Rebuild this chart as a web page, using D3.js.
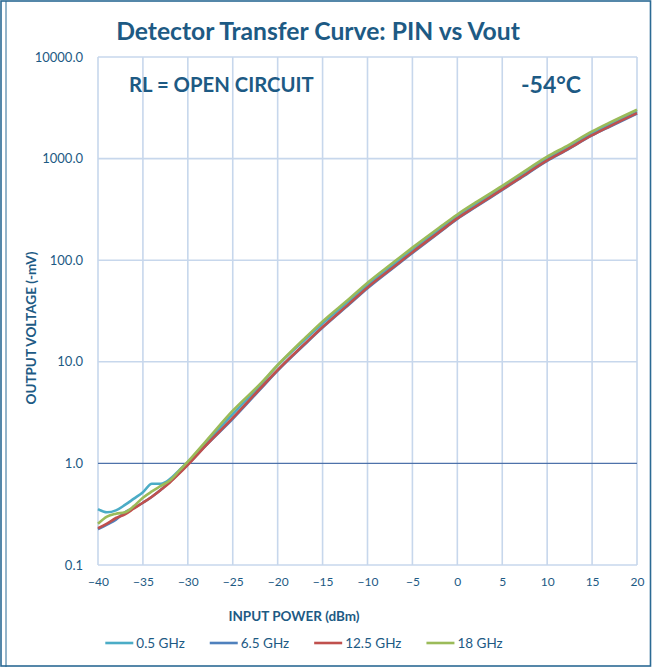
<!DOCTYPE html>
<html>
<head>
<meta charset="utf-8">
<script src="https://cdn.jsdelivr.net/npm/d3@7"></script>
<style>
  html, body { margin: 0; padding: 0; background: #ffffff; }
  svg { display: block; }
</style>
</head>
<body>
<svg id="chart" width="652" height="667"></svg>
<script>
// ---------- DATA ----------
const inputPower = [-40,-39,-38,-37,-36,-35,-34,-33,-32,-31,-30,-28,-25,-22,-20,-17,-15,-12,-10,-7,-5,-2,0,2,5,7,10,12,15,17,20];
const ghz05  = [0.355,0.33,0.345,0.39,0.45,0.52,0.63,0.63,0.70,0.85,1.03,1.6,3.05,5.8,9.2,16.4,23.8,40,57,92,127,200,270,352,518,675,1000,1250,1770,2180,2920];
const ghz65  = [0.225,0.25,0.28,0.33,0.365,0.41,0.47,0.55,0.66,0.8,0.98,1.5,2.75,5.3,8.2,14.8,21.7,37,53,86,118,188,255,332,492,640,950,1190,1690,2070,2780];
const ghz125 = [0.23,0.255,0.29,0.315,0.36,0.41,0.47,0.55,0.65,0.79,0.97,1.5,2.8,5.4,8.3,15.0,22,37.6,54,87,120,190,258,336,498,647,960,1200,1700,2090,2800];
const ghz18  = [0.255,0.30,0.32,0.33,0.38,0.46,0.53,0.6,0.68,0.84,1.04,1.65,3.3,6.0,9.3,17.0,25,42,60,97,133,210,282,368,540,705,1045,1305,1850,2270,3030];
const seriesNames = ["0.5 GHz","6.5 GHz","12.5 GHz","18 GHz"];
const seriesValues = [ghz05, ghz65, ghz125, ghz18];
const seriesColors = ["#4BACC6","#4F81BD","#C0504D","#9BBB59"];
const xTicks = [-40,-35,-30,-25,-20,-15,-10,-5,0,5,10,15,20];
const yTicks = [0.1,1,10,100,1000,10000];

// ---------- SETUP ----------
const svg = d3.select("#chart");
const FONT = "Lato, 'Open Sans', sans-serif";
const TXT = "#1D5A84";
const plot = {x0: 98, x1: 637, y0: 57, y1: 565};

// outer frame
svg.append("rect").attr("x",1).attr("y",1).attr("width",649.5).attr("height",665)
  .attr("fill","none").attr("stroke","#2B6A94").attr("stroke-width",1.6);
svg.append("line").attr("x1",6).attr("x2",6).attr("y1",1).attr("y2",667)
  .attr("stroke","#2B6A94").attr("stroke-width",1);

const x = d3.scaleLinear().domain([-40,20]).range([plot.x0, plot.x1]);
const y = d3.scaleLog().domain([0.1,10000]).range([plot.y1, plot.y0]);

// gridlines
const grid = svg.append("g");
grid.selectAll("line.v").data(xTicks).join("line")
  .attr("x1", d=>x(d)).attr("x2", d=>x(d))
  .attr("y1", plot.y0).attr("y2", plot.y1)
  .attr("stroke","#C7D7EC").attr("stroke-width",1.6);
grid.selectAll("line.h").data(yTicks.filter(d=>d!==1)).join("line")
  .attr("x1", plot.x0).attr("x2", plot.x1)
  .attr("y1", d=>y(d)).attr("y2", d=>y(d))
  .attr("stroke","#C7D7EC").attr("stroke-width",1.6);
// axis line at 1.0
svg.append("line").attr("x1",plot.x0).attr("x2",plot.x1)
  .attr("y1",y(1)).attr("y2",y(1))
  .attr("stroke","#4E72AA").attr("stroke-width",1.2);

// axes
const xAxis = svg.append("g").attr("transform",`translate(0,${plot.y1})`)
  .call(d3.axisBottom(x).tickValues(xTicks).tickSize(0).tickPadding(12).tickFormat(d3.format("d")));
xAxis.select(".domain").remove();
xAxis.selectAll("text").attr("fill",TXT).style("font-family",FONT).style("font-size","12px");

const yAxis = svg.append("g").attr("transform",`translate(${plot.x0},0)`)
  .call(d3.axisLeft(y).tickValues(yTicks).tickSize(0).tickPadding(15).tickFormat(d3.format(".1f")));
yAxis.select(".domain").remove();
yAxis.selectAll("text").attr("fill",TXT).style("font-family",FONT).style("font-size","13px");

// lines
const line = d3.line().x(d=>x(d[0])).y(d=>y(d[1])).curve(d3.curveMonotoneX);
seriesValues.forEach((vals,i)=>{
  svg.append("path")
    .datum(inputPower.map((p,j)=>[p, vals[j]]))
    .attr("d", line)
    .attr("fill","none")
    .attr("stroke", seriesColors[i])
    .attr("stroke-width", 2.6)
    .attr("stroke-linejoin","round");
});

// titles
svg.append("text").attr("x",318).attr("y",40).attr("text-anchor","middle")
  .attr("fill",TXT).style("font-family",FONT).style("font-weight","bold").style("font-size","24.7px")
  .text("Detector Transfer Curve: PIN vs Vout");
svg.append("text").attr("x",129).attr("y",92)
  .attr("fill",TXT).style("font-family",FONT).style("font-weight","bold").style("font-size","20.3px")
  .text("RL = OPEN CIRCUIT");
svg.append("text").attr("x",521).attr("y",93)
  .attr("fill",TXT).style("font-family",FONT).style("font-weight","bold").style("font-size","23px")
  .text("-54°C");

svg.append("text").attr("x",294).attr("y",621).attr("text-anchor","middle")
  .attr("fill",TXT).style("font-family",FONT).style("font-weight","bold").style("font-size","13.5px")
  .text("INPUT POWER (dBm)");
svg.append("text").attr("transform","translate(36,328) rotate(-90)").attr("text-anchor","middle")
  .attr("fill",TXT).style("font-family",FONT).style("font-weight","bold").style("font-size","13.5px")
  .text("OUTPUT VOLTAGE (-mV)");

// legend
const leg = svg.append("g");
let cx = 0;
seriesNames.forEach((n,i)=>{
  const g = leg.append("g").attr("transform",`translate(${cx},0)`);
  g.append("line").attr("x1",0).attr("x2",28).attr("y1",0).attr("y2",0)
    .attr("stroke",seriesColors[i]).attr("stroke-width",2.6);
  const t = g.append("text").attr("x",31).attr("y",4.7)
    .attr("fill",TXT).style("font-family",FONT).style("font-size","13.5px").text(n);
  cx += 31 + t.node().getComputedTextLength() + 25;
});
const legW = cx - 25;
leg.attr("transform",`translate(${304 - legW/2},643)`);
</script>
</body>
</html>
